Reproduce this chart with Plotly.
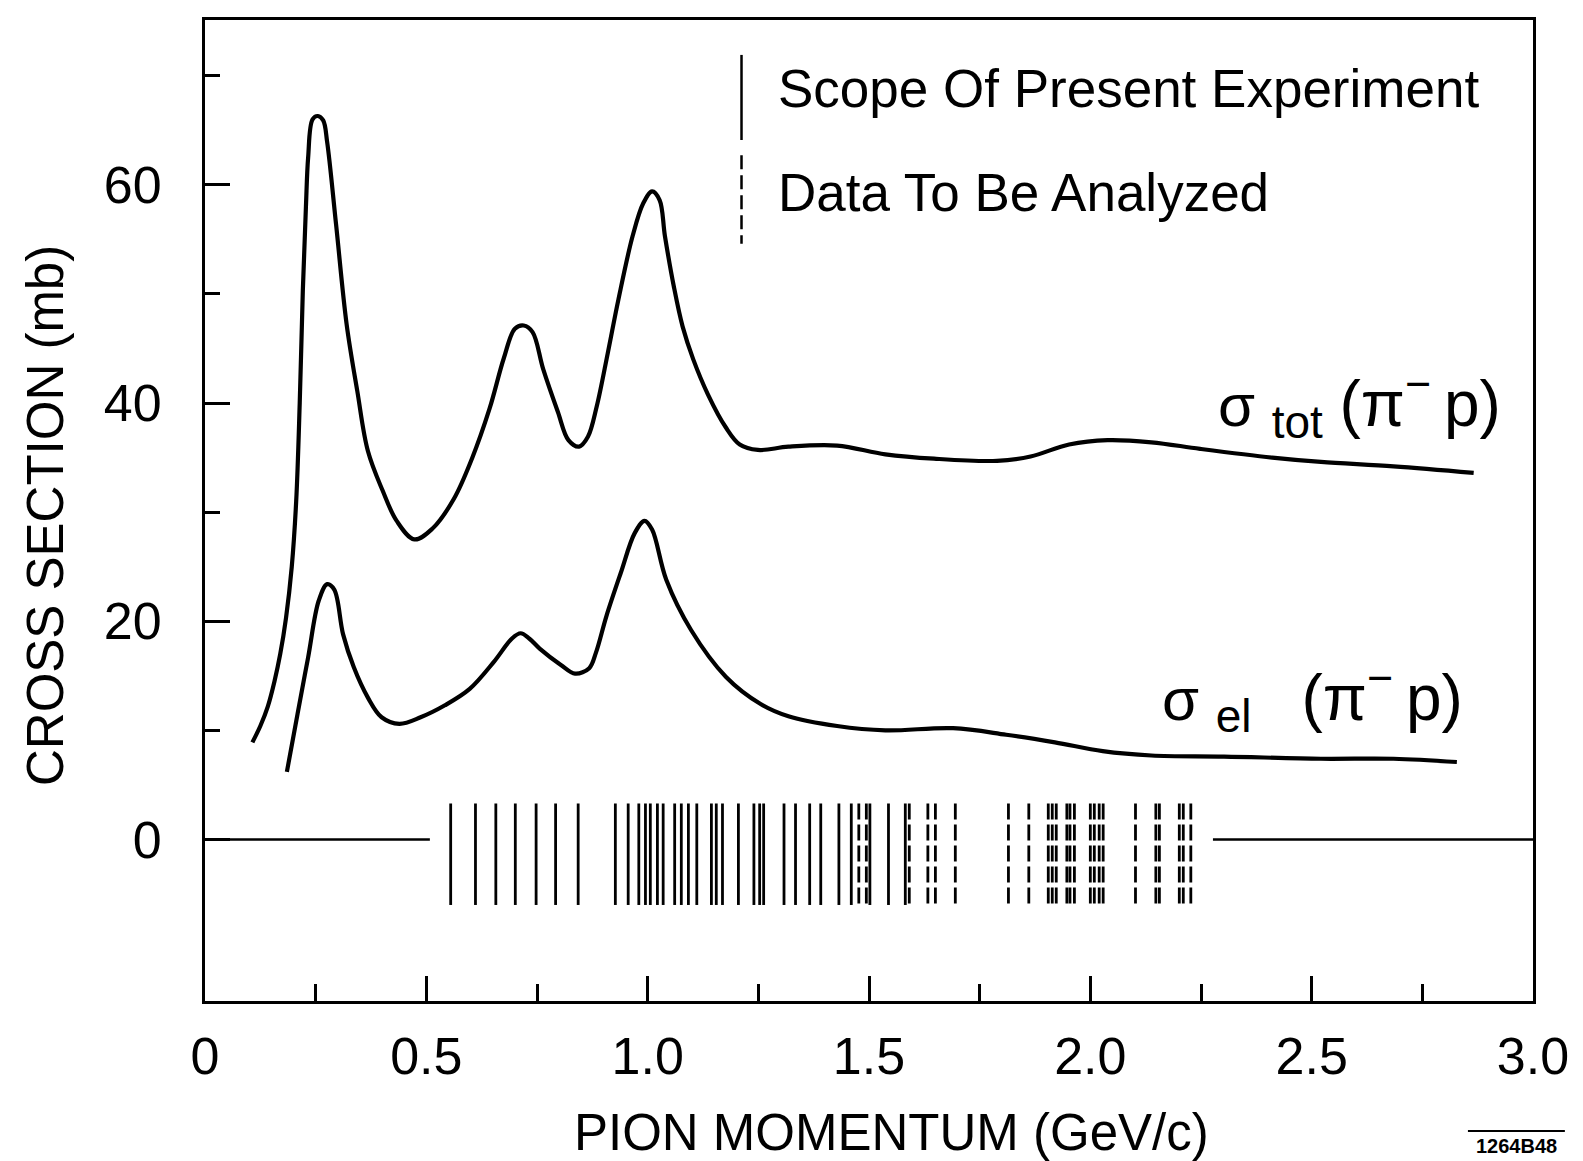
import plotly.graph_objects as go

# Total pi- p cross section (mb) vs pion momentum (GeV/c)
tot_p = [0.107, 0.125, 0.142, 0.157, 0.170, 0.183, 0.196, 0.206, 0.214, 0.221, 0.228, 0.233,
         0.243, 0.255, 0.267, 0.276, 0.296, 0.320, 0.344, 0.368, 0.401, 0.433, 0.473,
         0.514, 0.562, 0.603, 0.643, 0.675, 0.700, 0.720, 0.740, 0.764, 0.797, 0.821,
         0.845, 0.865, 0.885, 0.910, 0.934, 0.966, 0.990, 1.010, 1.027, 1.039, 1.059,
         1.079, 1.103, 1.136, 1.176, 1.208, 1.249, 1.318, 1.428, 1.537, 1.647, 1.789,
         1.865, 1.952, 2.039, 2.138, 2.248, 2.411, 2.521, 2.685, 2.866]
tot_sigma = [8.9, 10.4, 12.2, 14.5, 17.0, 20.3, 25.0, 31.0, 40.0, 50.3, 58.0, 62.5,
             66.0, 66.3, 65.9, 63.9, 56.4, 47.2, 41.1, 35.6, 32.0, 29.2, 27.5,
             28.5, 31.2, 34.9, 39.5, 44.1, 46.8, 47.1, 46.5, 43.1, 39.2, 36.6,
             36.0, 36.9, 39.7, 44.6, 49.5, 55.3, 58.3, 59.4, 58.6, 55.3, 50.7,
             47.0, 44.0, 40.8, 37.8, 36.2, 35.7, 36.0, 36.1, 35.3, 34.9, 34.7,
             35.1, 36.2, 36.6, 36.4, 35.8, 35.0, 34.6, 34.2, 33.6]

# Elastic pi- p cross section (mb)
el_p = [0.185, 0.209, 0.233, 0.257, 0.276, 0.292, 0.312, 0.336, 0.368, 0.399, 0.439,
        0.487, 0.542, 0.598, 0.653, 0.693, 0.713, 0.733, 0.756, 0.804, 0.836, 0.868,
        0.883, 0.907, 0.939, 0.971, 0.993, 1.010, 1.042, 1.098, 1.177, 1.256, 1.318,
        1.428, 1.537, 1.690, 1.810, 1.920, 2.028, 2.138, 2.302, 2.521, 2.685, 2.828]
el_sigma = [6.2, 11.5, 16.7, 21.9, 23.4, 22.9, 18.8, 15.8, 13.0, 11.2, 10.6,
            11.2, 12.3, 13.8, 16.3, 18.4, 18.9, 18.4, 17.5, 16.0, 15.2, 15.7,
            17.1, 20.5, 24.4, 28.1, 29.2, 28.4, 23.8, 19.2, 14.9, 12.4, 11.3,
            10.4, 10.0, 10.2, 9.6, 8.9, 8.1, 7.7, 7.6, 7.4, 7.4, 7.1]

# Momenta covered by the present experiment
scope_p = [0.555, 0.611, 0.657, 0.701, 0.748, 0.792, 0.843, 0.927, 0.956, 0.980,
           0.995, 1.006, 1.022, 1.035, 1.061, 1.076, 1.092, 1.111, 1.144, 1.155,
           1.169, 1.205, 1.240, 1.253, 1.262, 1.308, 1.334, 1.366, 1.391, 1.432,
           1.460, 1.502, 1.544, 1.582]
# Momenta with data still to be analyzed
pending_p = [1.477, 1.494, 1.591, 1.633, 1.650, 1.695, 1.815, 1.861, 1.905, 1.914,
             1.923, 1.947, 1.954, 1.964, 2.000, 2.009, 2.020, 2.029, 2.102, 2.148,
             2.156, 2.201, 2.210, 2.227]

x_ticks = [0, 0.5, 1.0, 1.5, 2.0, 2.5, 3.0]
x_tick_text = ["0", "0.5", "1.0", "1.5", "2.0", "2.5", "3.0"]
x_minor = [0.25, 0.75, 1.25, 1.75, 2.25, 2.75]
y_ticks = [0, 20, 40, 60]
y_tick_text = ["0", "20", "40", "60"]
y_minor = [10, 30, 50, 70]

MARK_TOP, MARK_BOTTOM = 3.3, -6.0
FONT = "Liberation Sans, Arial, sans-serif"


def segments(xs, y0, y1):
    px, py = [], []
    for x in xs:
        px += [x, x, None]
        py += [y0, y1, None]
    return px, py


fig = go.Figure()

for xs, ys in ((tot_p, tot_sigma), (el_p, el_sigma)):
    fig.add_trace(go.Scatter(x=xs, y=ys, mode="lines",
                             line=dict(color="black", width=4.2, shape="spline", smoothing=1.0),
                             hoverinfo="skip", showlegend=False))

sx, sy = segments(scope_p, MARK_TOP, MARK_BOTTOM)
fig.add_trace(go.Scatter(x=sx, y=sy, mode="lines",
                         line=dict(color="black", width=2.8),
                         hoverinfo="skip", showlegend=False))
dx, dy = segments(pending_p, MARK_TOP, MARK_BOTTOM)
fig.add_trace(go.Scatter(x=dx, y=dy, mode="lines",
                         line=dict(color="black", width=2.8, dash="16px,5px"),
                         hoverinfo="skip", showlegend=False))

# zero baseline on both sides of the momentum marks
fig.add_trace(go.Scatter(x=[0, 0.508, None, 2.277, 3.0], y=[0, 0, None, 0, 0], mode="lines",
                         line=dict(color="black", width=2.5),
                         hoverinfo="skip", showlegend=False))

# key
fig.add_shape(type="line", xref="x", yref="y", x0=1.212, x1=1.212, y0=71.9, y1=64.1,
              line=dict(color="black", width=2.5))
fig.add_shape(type="line", xref="x", yref="y", x0=1.212, x1=1.212, y0=62.7, y1=54.6,
              line=dict(color="black", width=2.5, dash="14px,6px"))

SUB = '<sub><span style="font-size:46px">{}</span></sub>'
PAREN = '<span style="font-size:64px">(π<sup>−</sup>\u2009p)</span>'

annotations = [
    dict(x=1.291, y=68.8, text="Scope Of Present Experiment", xanchor="left", yanchor="middle",
         font=dict(size=53)),
    dict(x=1.291, y=59.3, text="Data To Be Analyzed", xanchor="left", yanchor="middle",
         font=dict(size=53)),
    dict(x=2.284, y=40.0, text="σ\u00a0" + SUB.format("tot") + "\u00a0" + PAREN,
         xanchor="left", yanchor="middle", font=dict(size=60)),
    dict(x=2.158, y=13.1, text="σ\u00a0" + SUB.format("el") + "\u00a0\u00a0\u00a0" + PAREN,
         xanchor="left", yanchor="middle", font=dict(size=60)),
    dict(xref="paper", yref="paper", x=0.5166, y=-0.1336, text="PION MOMENTUM (GeV/c)",
         xanchor="center", yanchor="middle", font=dict(size=51)),
    dict(xref="paper", yref="paper", x=-0.1205, y=0.4954, text="CROSS SECTION (mb)",
         textangle=-90, xanchor="center", yanchor="middle", font=dict(size=51)),
    dict(xref="paper", yref="paper", x=0.9876, y=-0.1478, text="<b>1264B48</b>",
         xanchor="center", yanchor="middle", font=dict(size=20)),
]
for a in annotations:
    a.setdefault("xref", "x")
    a.setdefault("yref", "y")
    a["showarrow"] = False
    a["font"].update(family=FONT, color="black")
    fig.add_annotation(**a)

fig.add_shape(type="line", xref="paper", yref="paper", x0=0.951, x1=1.024, y0=-0.1325, y1=-0.1325,
              line=dict(color="black", width=2))

axis_common = dict(showline=True, mirror=True, linecolor="black", linewidth=3,
                   showgrid=False, zeroline=False, ticks="inside", tickcolor="black",
                   tickwidth=2.5, tickfont=dict(family=FONT, size=52, color="black"))

fig.update_xaxes(range=[0, 3.0], tickmode="array", tickvals=x_ticks, ticktext=x_tick_text,
                 ticklen=25, ticklabelstandoff=8,
                 minor=dict(ticks="inside", ticklen=17, tickwidth=2.5, tickcolor="black",
                            tickmode="array", tickvals=x_minor),
                 **axis_common)
fig.update_yaxes(range=[-14.8, 75.1], tickmode="array", tickvals=y_ticks, ticktext=y_tick_text,
                 ticklen=25, ticklabelstandoff=30,
                 minor=dict(ticks="inside", ticklen=15, tickwidth=2.5, tickcolor="black",
                            tickmode="array", tickvals=y_minor),
                 **axis_common)

fig.update_layout(width=1583, height=1161, margin=dict(l=205, r=50, t=20, b=160),
                  paper_bgcolor="white", plot_bgcolor="white", showlegend=False)

fig.write_html("out.html")
